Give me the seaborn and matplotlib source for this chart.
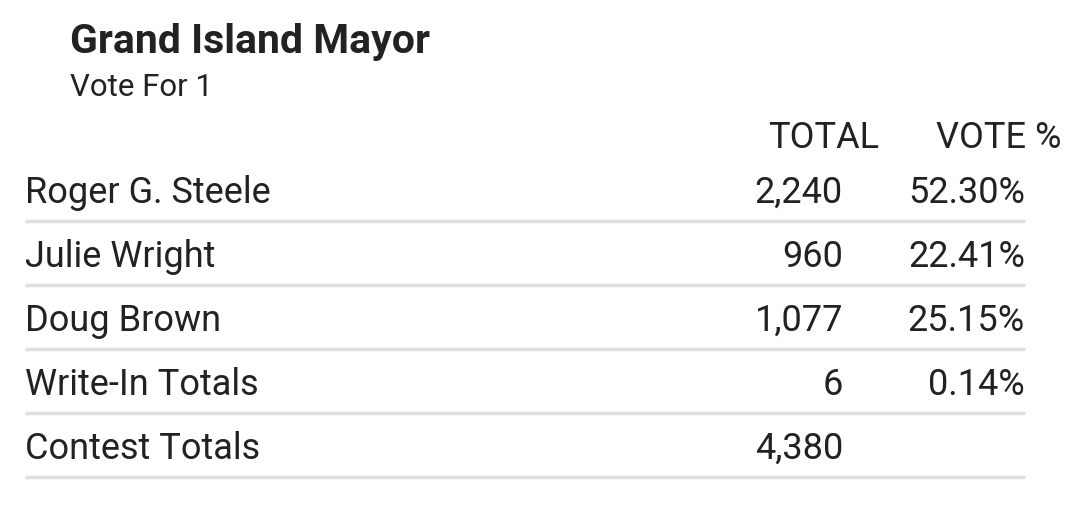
import matplotlib
matplotlib.use("Agg")
import matplotlib.pyplot as plt
import seaborn as sns

title = "Grand Island Mayor"
subtitle = "Vote For 1"
headers = ["TOTAL", "VOTE %"]
candidates = ["Roger G. Steele", "Julie Wright", "Doug Brown", "Write-In Totals", "Contest Totals"]
totals = ["2,240", "960", "1,077", "6", "4,380"]
percents = ["52.30%", "22.41%", "25.15%", "0.14%", ""]

sns.set_theme(style="white")
plt.rcParams['font.family'] = ['Roboto', 'DejaVu Sans']

fig = plt.figure(figsize=(10.8, 5.17), dpi=100)
ax = fig.add_axes([0, 0, 1, 1])
ax.set_xlim(0, 1080)
ax.set_ylim(517, 0)
ax.axis("off")

col = "#222222"
ax.text(70, 42, title, fontsize=29.5, fontweight="bold", color=col, va="center", ha="left")
ax.text(70, 88, subtitle, fontsize=22.5, color=col, va="center", ha="left")
ax.text(879, 138, headers[0], fontsize=26, color=col, va="center", ha="right")
ax.text(1061, 138, headers[1], fontsize=26, color=col, va="center", ha="right")

y0, dy = 193, 64
for i, (n, t, p) in enumerate(zip(candidates, totals, percents)):
    y = y0 + i * dy
    ax.text(25, y, n, fontsize=26, color=col, va="center", ha="left")
    ax.text(843, y, t, fontsize=26, color=col, va="center", ha="right")
    if p:
        ax.text(1025, y, p, fontsize=26, color=col, va="center", ha="right")
    ax.hlines(y + 28, 25, 1025, color="#e0e0e0", linewidth=2.5)

fig.savefig("out.png", dpi=100, facecolor="white")
